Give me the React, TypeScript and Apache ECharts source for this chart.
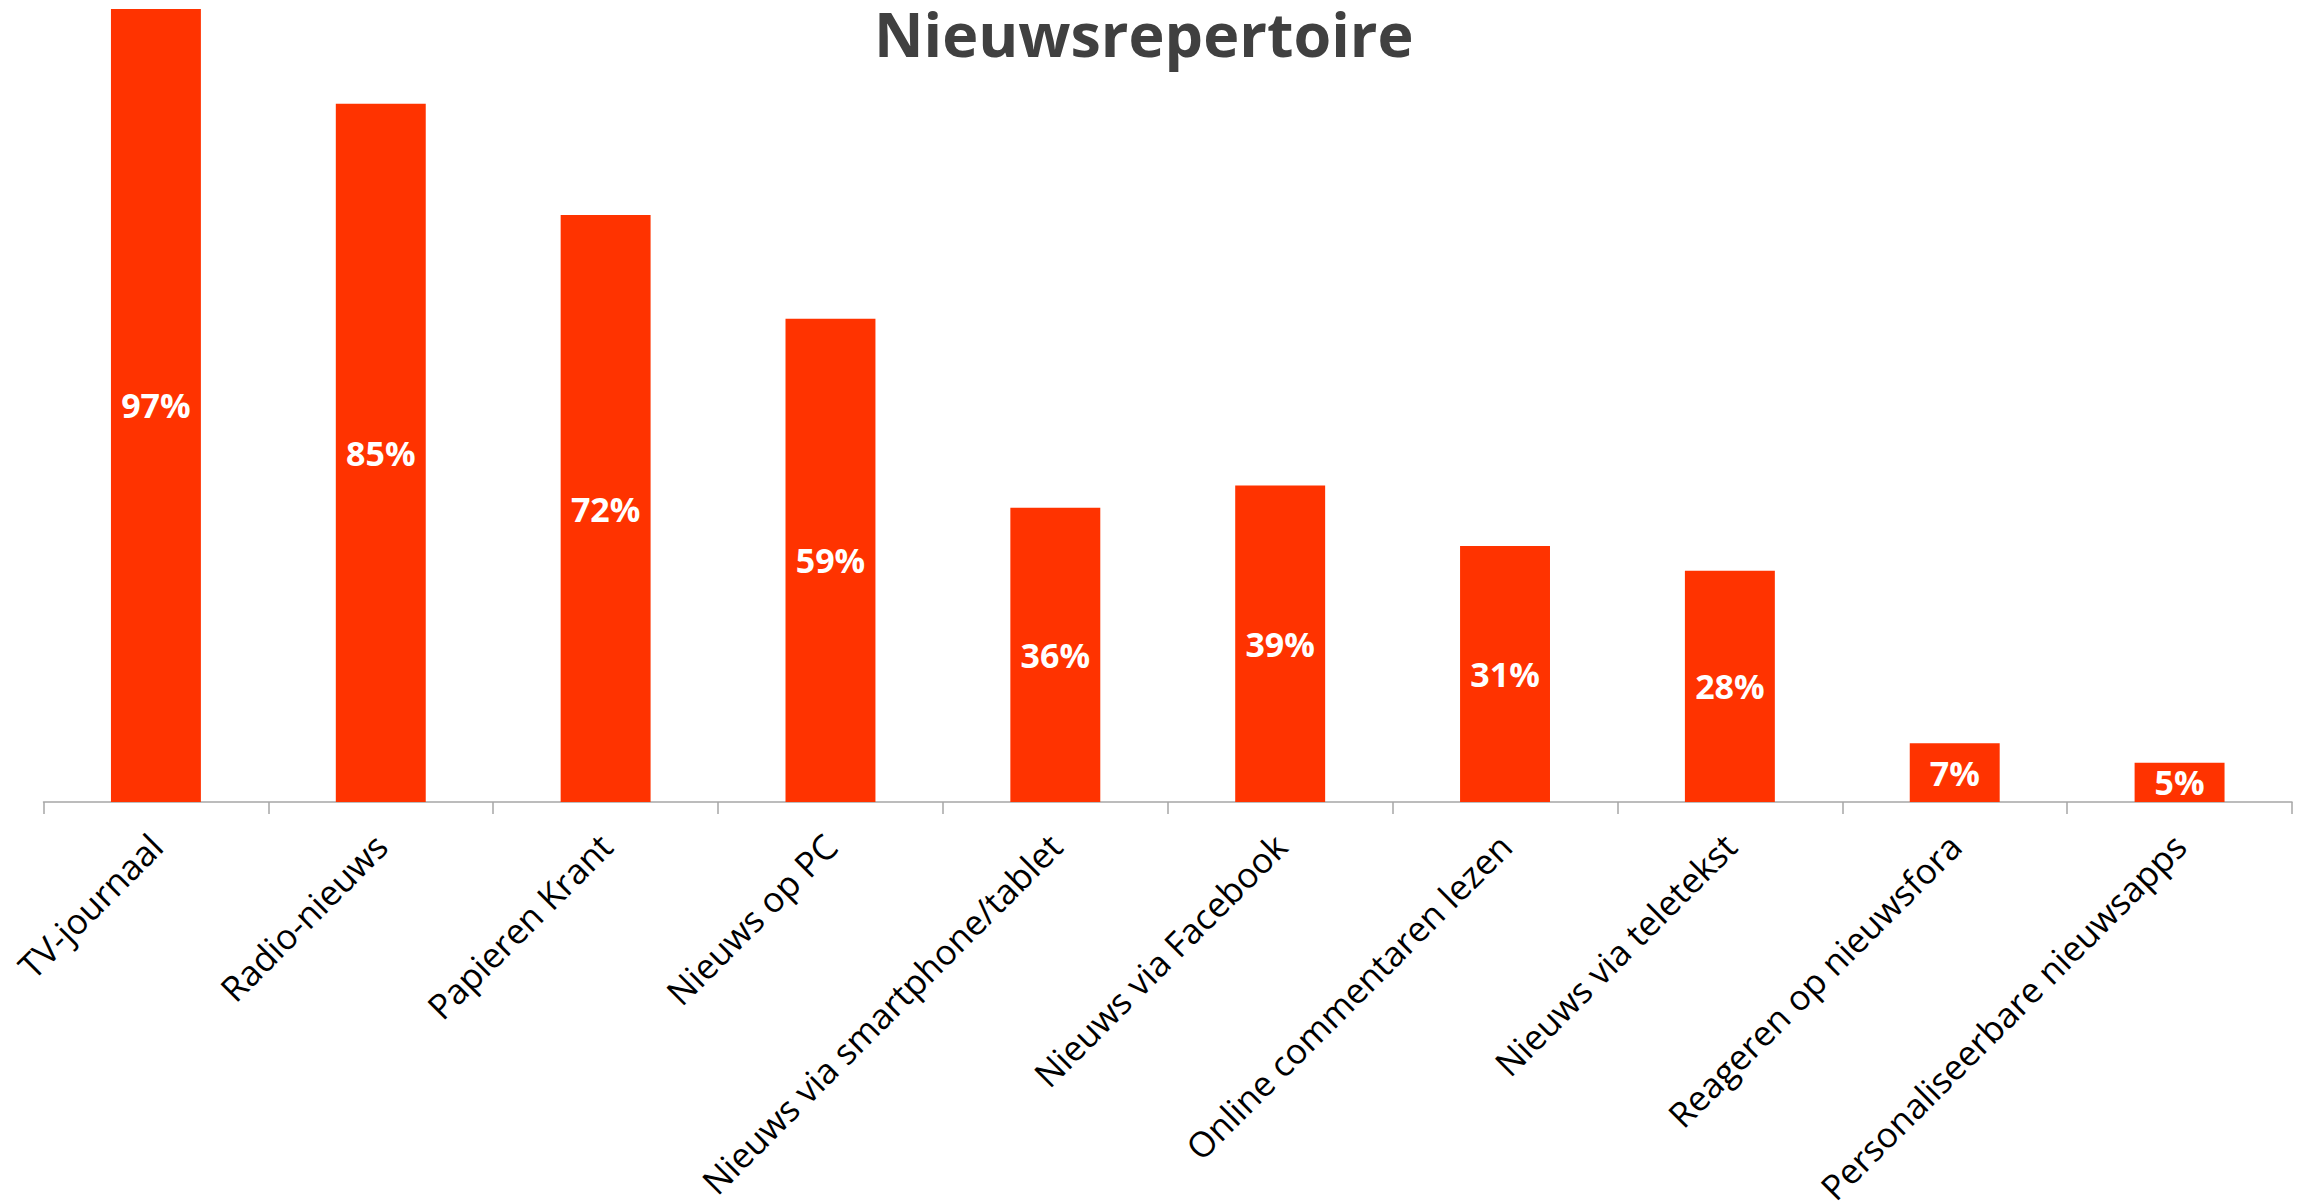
import React, { useEffect, useRef } from "react";
import * as echarts from "echarts";

const categories = [
  "TV-journaal",
  "Radio-nieuws",
  "Papieren Krant",
  "Nieuws op PC",
  "Nieuws via smartphone/tablet",
  "Nieuws via Facebook",
  "Online commentaren lezen",
  "Nieuws via teletekst",
  "Reageren op nieuwsfora",
  "Personaliseerbare nieuwsapps",
];
const values = [97, 85.4, 71.8, 59.1, 36.0, 38.7, 31.3, 28.3, 7.2, 4.8];
const titleText = "Nieuwsrepertoire";

export default function App() {
  const ref = useRef<HTMLDivElement>(null);
  useEffect(() => {
    if (!ref.current) return;
    const chart = echarts.init(ref.current, null, { renderer: "svg" });
    chart.setOption({
      animation: false,
      backgroundColor: "#ffffff",
      title: {
        text: titleText,
        left: 874,
        top: 3,
        padding: 0,
        textStyle: {
          fontFamily: "Open Sans",
          fontWeight: "bold",
          fontSize: 61,
          lineHeight: 61,
          color: "#404040",
        },
      },
      grid: {
        left: 43.5,
        right: 13,
        top: 0,
        bottom: 400,
        containLabel: false,
        outerBoundsMode: "none",
      },
      xAxis: {
        type: "category",
        data: categories,
        boundaryGap: true,
        axisLine: { show: true, lineStyle: { color: "#a6a6a6", width: 1.5 } },
        axisTick: { show: true, length: 12, lineStyle: { color: "#a6a6a6", width: 1.5 } },
        axisLabel: {
          rotate: 45,
          margin: 38,
          interval: 0,
          fontFamily: "Open Sans",
          fontSize: 35,
          lineHeight: 30,
          color: "#000000",
        },
      },
      yAxis: {
        type: "value",
        min: 0,
        max: 98.1,
        show: false,
        splitLine: { show: false },
      },
      series: [
        {
          type: "bar",
          data: values,
          barWidth: "40%",
          itemStyle: { color: "#FF3300" },
          label: {
            show: true,
            position: "inside",
            formatter: (p: any) => Math.round(p.value) + "%",
            fontFamily: "Open Sans",
            fontWeight: "bold",
            fontSize: 34,
            color: "#ffffff",
          },
        },
      ],
    });
    return () => chart.dispose();
  }, []);
  return (
    <div
      ref={ref}
      style={{ position: "fixed", left: 0, top: 0, width: 2305, height: 1202 }}
    />
  );
}
